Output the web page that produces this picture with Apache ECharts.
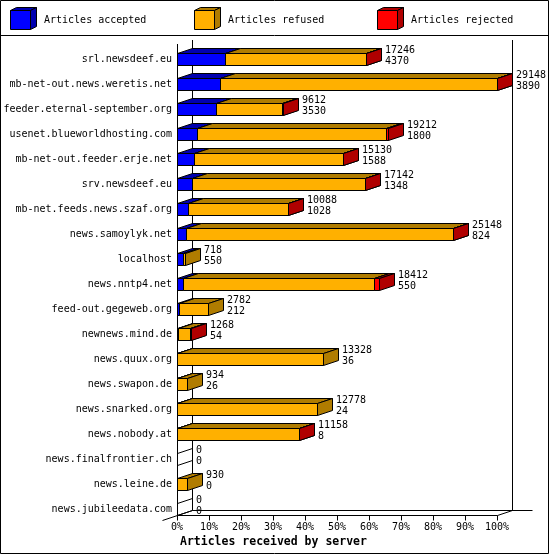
<!DOCTYPE html>
<html lang="en">
<head>
    <meta charset="UTF-8">
    <title>Articles received by server</title>
    <script type="text/javascript" src="https://cdn.jsdelivr.net/npm/echarts@6/dist/echarts.min.js"></script>
    <style>html,body{margin:0;padding:0;background:#fff;}</style>
</head>
<body>
    <div id="container" style="width:550px;height:555px"></div>

    <script type="text/javascript">
        // servers, top to bottom
        var servers = ['srl.newsdeef.eu', 'mb-net-out.news.weretis.net', 'feeder.eternal-september.org',
            'usenet.blueworldhosting.com', 'mb-net-out.feeder.erje.net', 'srv.newsdeef.eu',
            'mb-net.feeds.news.szaf.org', 'news.samoylyk.net', 'localhost', 'news.nntp4.net',
            'feed-out.gegeweb.org', 'newnews.mind.de', 'news.quux.org', 'news.swapon.de',
            'news.snarked.org', 'news.nobody.at', 'news.finalfrontier.ch', 'news.leine.de',
            'news.jubileedata.com'];
        // upper number next to each bar (total offered)
        var offered = [17246, 29148, 9612, 19212, 15130, 17142, 10088, 25148, 718, 18412,
            2782, 1268, 13328, 934, 12778, 11158, 0, 930, 0];
        // lower number next to each bar
        var accepted = [4370, 3890, 3530, 1800, 1588, 1348, 1028, 824, 550, 550,
            212, 54, 36, 26, 24, 8, 0, 0, 0];
        var refused = [12851, 25213, 6052, 17282, 13522, 15779, 9050, 24304, 168, 17402,
            2570, 1174, 13292, 908, 12754, 11138, 0, 930, 0];
        var rejected = [25, 45, 30, 130, 20, 15, 10, 20, 0, 460,
            0, 40, 0, 0, 0, 12, 0, 0, 0];
        var xTicks = [0, 10, 20, 30, 40, 50, 60, 70, 80, 90, 100];
        var seriesNames = ['Articles accepted', 'Articles refused', 'Articles rejected'];
        var axisTitle = 'Articles received by server';

        var FONT = 'DejaVu Sans Mono';
        var colors = ['#0000ff', '#ffb000', '#ff0000'];
        var darkColors = ['#0000b0', '#b07c00', '#b00000'];
        var DX = 15, DY = 5, HALF = 6;

        var parts = [accepted, refused, rejected];
        var maxOffered = Math.max.apply(null, offered);

        function pct(n) {
            return n / maxOffered * 100;
        }

        function crisp(v) {
            return Math.round(v) + 0.5;
        }

        function segData(k) {
            return servers.map(function (name, i) {
                var start = 0;
                for (var j = 0; j < k; j++) start += parts[j][i];
                return [pct(start), pct(start + parts[k][i]), i, offered[i]];
            });
        }

        // one 3d box per segment: front, top and right side
        function renderBox(k) {
            return function (params, api) {
                var p1 = api.coord([api.value(0), api.value(2)]);
                var p2 = api.coord([api.value(1), api.value(2)]);
                var x1 = crisp(p1[0]), x2 = crisp(p2[0]);
                var top = crisp(p1[1] - HALF), bot = top + 2 * HALF;
                if (api.value(3) === 0) {
                    if (k !== 0) return null;
                    return {
                        type: 'polyline',
                        shape: {points: [[x1, top], [x1 + DX, top - DY], [x1 + DX, bot - DY], [x1, bot]]},
                        style: {stroke: '#000', fill: null, lineWidth: 1}
                    };
                }
                if (api.value(1) - api.value(0) <= 0) return null;
                return {
                    type: 'group',
                    children: [
                        {type: 'rect', shape: {x: x1, y: top, width: x2 - x1, height: bot - top},
                            style: {fill: colors[k], stroke: '#000', lineWidth: 1}},
                        {type: 'polygon', shape: {points: [[x1, top], [x1 + DX, top - DY], [x2 + DX, top - DY], [x2, top]]},
                            style: {fill: darkColors[k], stroke: '#000', lineWidth: 1}},
                        {type: 'polygon', shape: {points: [[x2, top], [x2 + DX, top - DY], [x2 + DX, bot - DY], [x2, bot]]},
                            style: {fill: darkColors[k], stroke: '#000', lineWidth: 1}}
                    ]
                };
            };
        }

        function renderLabel(params, api) {
            var p = api.coord([api.value(0), api.value(1)]);
            var x = Math.round(p[0]) + DX + 4;
            var st = {font: '10px "' + FONT + '"', fill: '#000', verticalAlign: 'middle', align: 'left'};
            return {
                type: 'group',
                children: [
                    {type: 'text', x: x, y: p[1] - 9, style: Object.assign({text: String(api.value(2))}, st)},
                    {type: 'text', x: x, y: p[1] + 2, style: Object.assign({text: String(api.value(3))}, st)}
                ]
            };
        }

        var labelData = servers.map(function (name, i) {
            return [pct(offered[i]), i, offered[i], accepted[i]];
        });

        var dom = document.getElementById('container');
        var myChart = echarts.init(dom, null, {renderer: 'canvas'});

        var series = seriesNames.map(function (name, k) {
            return {
                name: name,
                type: 'custom',
                renderItem: renderBox(k),
                encode: {x: [0, 1], y: 2},
                data: segData(k),
                clip: false,
                z: 2 + k
            };
        });
        series.push({
            name: 'labels',
            type: 'custom',
            renderItem: renderLabel,
            encode: {x: 0, y: 1},
            data: labelData,
            clip: false,
            z: 6
        });

        var option = {
            animation: false,
            backgroundColor: '#fff',
            title: {
                text: axisTitle,
                left: 180,
                top: 536.5,
                padding: 0,
                textStyle: {fontFamily: FONT, fontSize: 11.5, fontWeight: 'bold', color: '#000'}
            },
            grid: {left: 177, right: 53, top: 46.5, bottom: 33.5, containLabel: false, outerBoundsMode: 'none'},
            xAxis: {
                type: 'value',
                min: 0,
                max: 100,
                interval: 10,
                axisLine: {show: false},
                axisTick: {show: false},
                axisLabel: {formatter: '{value}%', color: '#000', fontFamily: FONT, fontSize: 10, margin: 1},
                splitLine: {show: false}
            },
            yAxis: {
                type: 'category',
                data: servers,
                inverse: true,
                axisLine: {show: false},
                axisTick: {show: false},
                axisLabel: {color: '#000', fontFamily: FONT, fontSize: 10, margin: 5, interval: 0},
                splitLine: {show: false}
            },
            series: series
        };
        myChart.setOption(option, true);

        // frame, axis line, legend and border, placed from the axes
        var x0 = crisp(myChart.convertToPixel({xAxisIndex: 0}, 0));
        var x100 = crisp(myChart.convertToPixel({xAxisIndex: 0}, 100));
        var yFirst = myChart.convertToPixel({yAxisIndex: 0}, 0);
        var yLast = myChart.convertToPixel({yAxisIndex: 0}, servers.length - 1);
        var frontTop = Math.round(yFirst - 15);
        var backTop = frontTop - 4;
        var floorFront = crisp(yLast - HALF) + 2 * HALF;
        var floorBack = floorFront - DY;
        var lineStyle = {stroke: '#000', lineWidth: 1};

        function seg(a, b) {
            return {type: 'line', z: 0, shape: {x1: a[0], y1: a[1], x2: b[0], y2: b[1]}, style: lineStyle};
        }

        var graphics = [
            {type: 'rect', z: 10, shape: {x: 0.5, y: 0.5, width: 548, height: 553}, style: {stroke: '#000', fill: null, lineWidth: 1}},
            seg([0, 35.5], [549, 35.5]),
            seg([x0, frontTop], [x0, floorFront]),
            seg([x0 + DX, backTop], [x0 + DX, floorBack]),
            seg([x100 + DX, backTop], [x100 + DX, floorBack]),
            seg([x0 + DX, floorBack], [x100 + DX + 20, floorBack]),
            seg([x0 - DX, floorFront + DY], [x0 + DX, floorBack]),
            seg([x0, floorFront], [x100, floorFront]),
            seg([x100, floorFront], [x100 + DX, floorBack])
        ];
        xTicks.forEach(function (v) {
            var tx = crisp(myChart.convertToPixel({xAxisIndex: 0}, v));
            graphics.push(seg([tx, floorFront], [tx, floorFront + 5]));
        });

        var legendX = [10, 194, 377];
        seriesNames.forEach(function (name, k) {
            var bx = legendX[k] + 0.5, by = 10.5;
            graphics.push({
                type: 'group',
                children: [
                    {type: 'polygon', shape: {points: [[bx, by], [bx + 6, by - 3], [bx + 26, by - 3], [bx + 20, by]]},
                        style: {fill: darkColors[k], stroke: '#000', lineWidth: 1}},
                    {type: 'polygon', shape: {points: [[bx + 20, by], [bx + 26, by - 3], [bx + 26, by + 16], [bx + 20, by + 19]]},
                        style: {fill: darkColors[k], stroke: '#000', lineWidth: 1}},
                    {type: 'rect', shape: {x: bx, y: by, width: 20, height: 19},
                        style: {fill: colors[k], stroke: '#000', lineWidth: 1}},
                    {type: 'text', x: legendX[k] + 34, y: 20,
                        style: {text: name, font: '10px "' + FONT + '"', fill: '#000', verticalAlign: 'middle'}}
                ]
            });
        });

        myChart.setOption({graphic: graphics});
    </script>
</body>
</html>
